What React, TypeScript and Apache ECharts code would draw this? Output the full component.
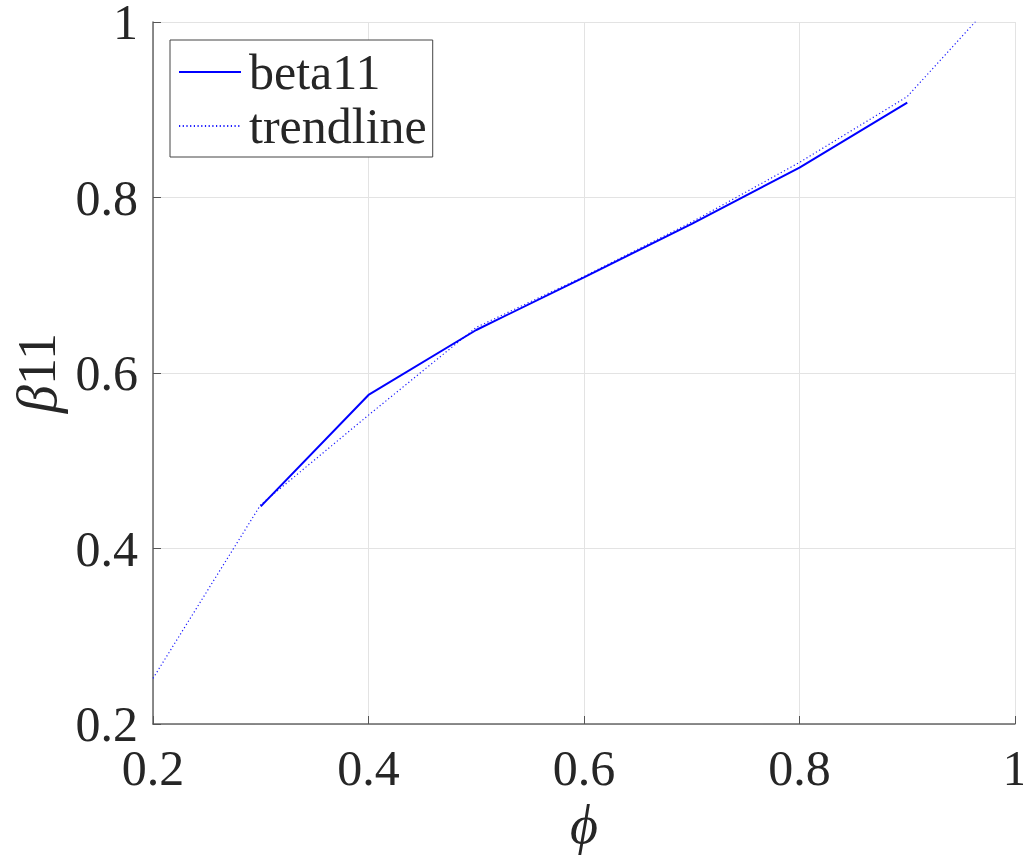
import React, { useEffect, useRef } from "react";
import * as echarts from "echarts";

const phiBeta = [0.3, 0.4, 0.5, 0.6, 0.7, 0.8, 0.9];
const beta11 = [0.448, 0.575, 0.649, 0.709, 0.77, 0.834, 0.908];
const phiTrend = [0.2, 0.3, 0.4, 0.5, 0.6, 0.7, 0.8, 0.9, 1.0];
const trend = [0.252, 0.45, 0.552, 0.652, 0.71, 0.772, 0.84, 0.915, 1.05];

const FONT = "'Liberation Serif', 'DejaVu Serif', serif";
const TXT = "#262626";

export default function App() {
  const ref = useRef<HTMLDivElement>(null);
  useEffect(() => {
    if (!ref.current) return;
    const chart = echarts.init(ref.current, undefined, { renderer: "svg" });
    chart.setOption({
      animation: false,
      backgroundColor: "#ffffff",
      grid: {
        left: 153,
        top: 22,
        right: 8,
        bottom: 137,
        containLabel: false,
        outerBoundsMode: "none",
      },
      legend: {
        left: 170,
        top: 40,
        orient: "vertical",
        backgroundColor: "#ffffff",
        borderColor: "#444444",
        borderWidth: 1,
        borderRadius: 0,
        padding: [7, 6, 6, 8],
        itemGap: 4,
        itemWidth: 62,
        itemHeight: 20,
        itemStyle: { opacity: 0 },
        textStyle: { fontFamily: FONT, fontSize: 50, color: TXT, lineHeight: 50, padding: [0, 0, 0, 3] },
        data: ["beta11", "trendline"],
      },
      xAxis: {
        type: "value",
        min: 0.2,
        max: 1,
        interval: 0.2,
        name: "{i|ϕ}",
        nameLocation: "middle",
        nameGap: 74,
        nameTextStyle: {
          rich: { i: { fontFamily: FONT, fontStyle: "italic", fontSize: 54, color: TXT } },
        },
        axisLine: { show: true, onZero: false, lineStyle: { color: "#666666", width: 1.5 } },
        axisTick: { show: true, inside: true, length: 8, lineStyle: { color: "#555555" } },
        axisLabel: { fontFamily: FONT, fontSize: 50, color: TXT, margin: 19 },
        splitLine: { show: true, lineStyle: { color: "#e3e3e3", width: 1 } },
      },
      yAxis: {
        type: "value",
        min: 0.2,
        max: 1,
        interval: 0.2,
        name: "{i|β}{n|11}",
        nameLocation: "middle",
        nameGap: 86,
        nameTextStyle: {
          rich: {
            i: { fontFamily: FONT, fontStyle: "italic", fontSize: 56, color: TXT },
            n: { fontFamily: FONT, fontSize: 54, color: TXT },
          },
        },
        axisLine: { show: true, onZero: false, lineStyle: { color: "#666666", width: 1.5 } },
        axisTick: { show: true, inside: true, length: 8, lineStyle: { color: "#555555" } },
        axisLabel: { fontFamily: FONT, fontSize: 50, color: TXT, margin: 15 },
        splitLine: { show: true, lineStyle: { color: "#e3e3e3", width: 1 } },
      },
      series: [
        {
          name: "beta11",
          type: "line",
          symbol: "none",
          data: phiBeta.map((x, i) => [x, beta11[i]]),
          lineStyle: { color: "#0000ff", width: 2 },
          itemStyle: { color: "#0000ff" },
          z: 3,
        },
        {
          name: "trendline",
          type: "line",
          symbol: "none",
          clip: true,
          data: phiTrend.map((x, i) => [x, trend[i]]),
          lineStyle: { color: "#1a1aff", width: 1.2, type: [1.2, 2.5] },
          itemStyle: { color: "#1a1aff" },
          z: 2,
        },
      ],
    });
    return () => chart.dispose();
  }, []);
  return (
    <div
      ref={ref}
      style={{ position: "fixed", left: 0, top: 0, width: 1023, height: 861, background: "#fff" }}
    />
  );
}
